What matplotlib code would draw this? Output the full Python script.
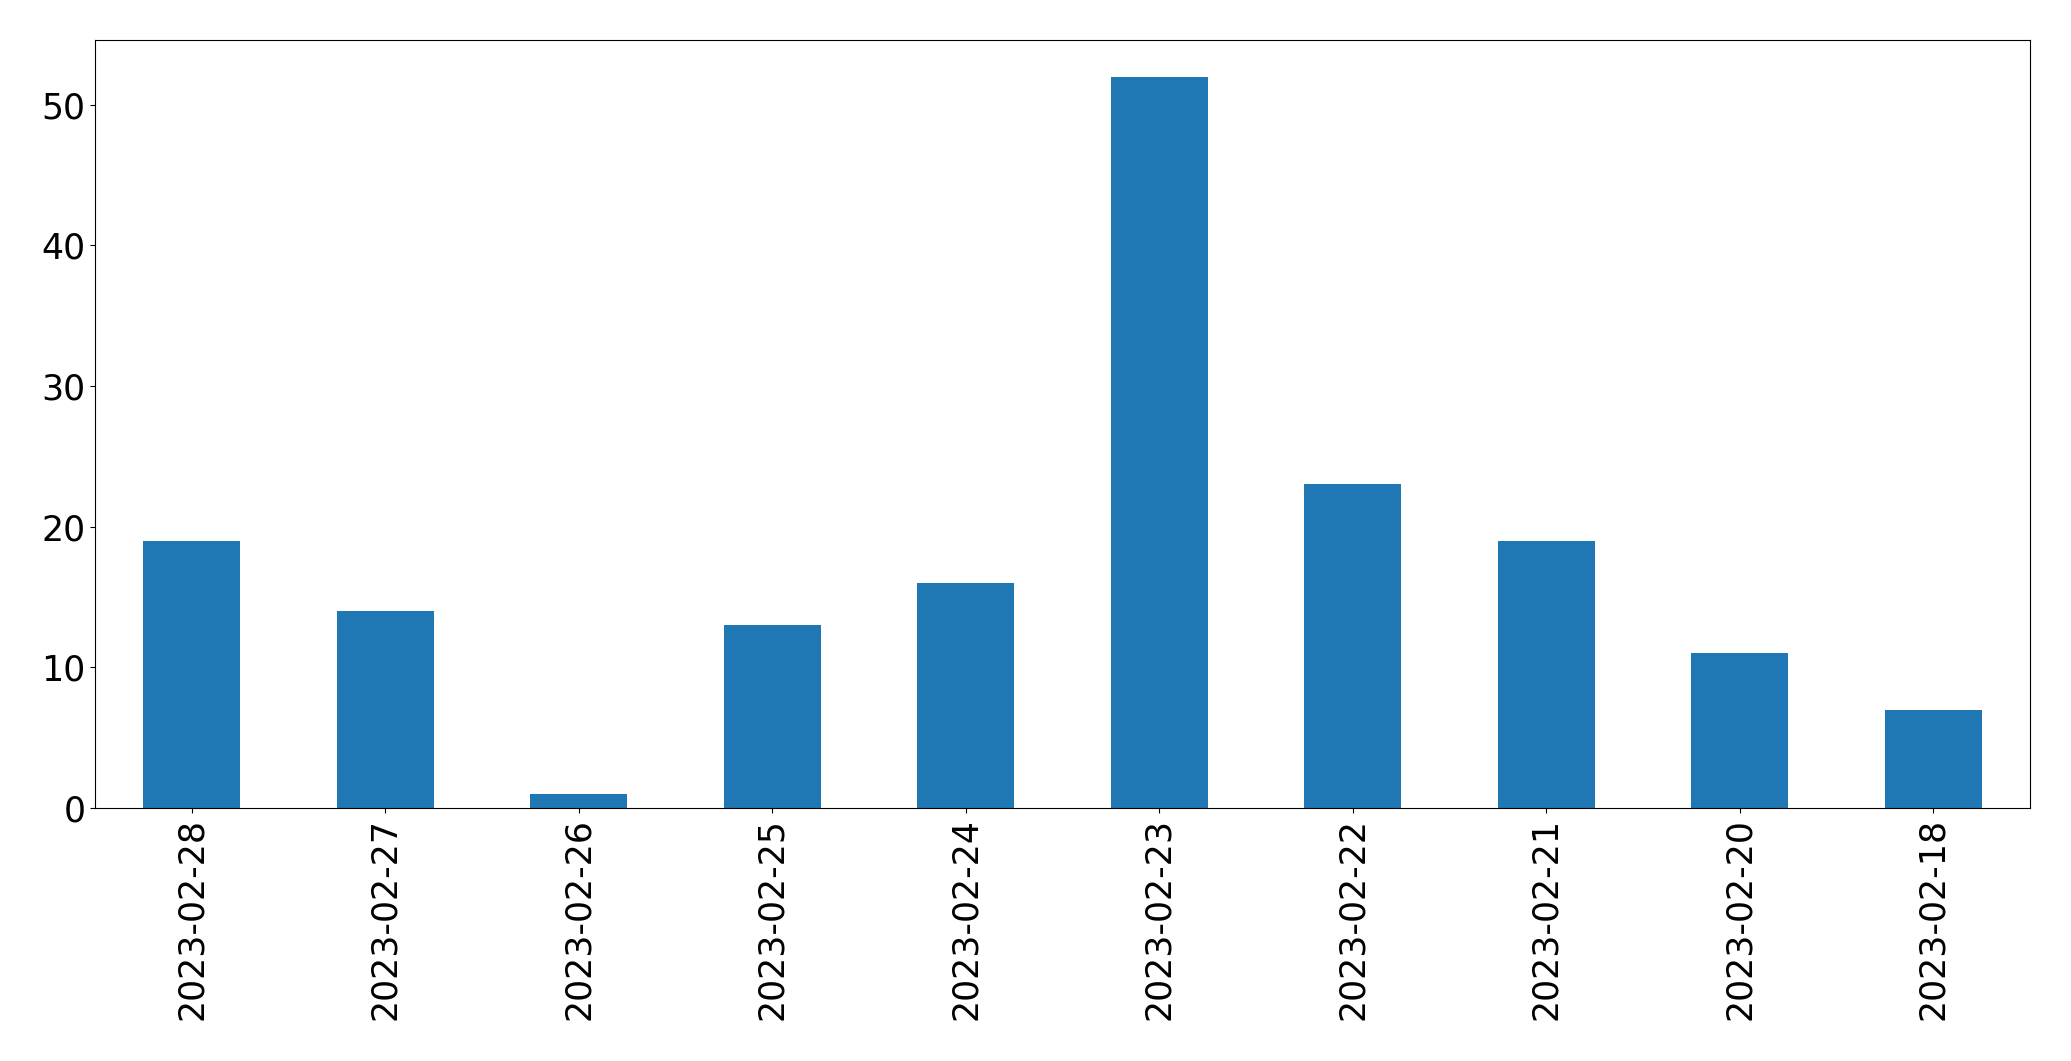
import matplotlib
matplotlib.use("Agg")
import matplotlib.pyplot as plt

dates = ["2023-02-28", "2023-02-27", "2023-02-26", "2023-02-25", "2023-02-24",
         "2023-02-23", "2023-02-22", "2023-02-21", "2023-02-20", "2023-02-18"]
counts = [19, 14, 1, 13, 16, 52, 23, 19, 11, 7]

fig = plt.figure(figsize=(20.71, 10.61), dpi=100)
ax = fig.add_axes([95/2071, 1 - 808/1061, (2030-95)/2071, (808-40)/1061])
x = list(range(len(dates)))
ax.bar(x, counts, width=0.5, color="#1f77b4")
ax.set_xticks(x)
ax.set_xticklabels(dates, rotation=90)
ax.set_xlim(-0.5, len(dates) - 0.5)
ax.set_ylim(0, 54.6)
ax.tick_params(labelsize=25)
fig.savefig("out.png", dpi=100)
